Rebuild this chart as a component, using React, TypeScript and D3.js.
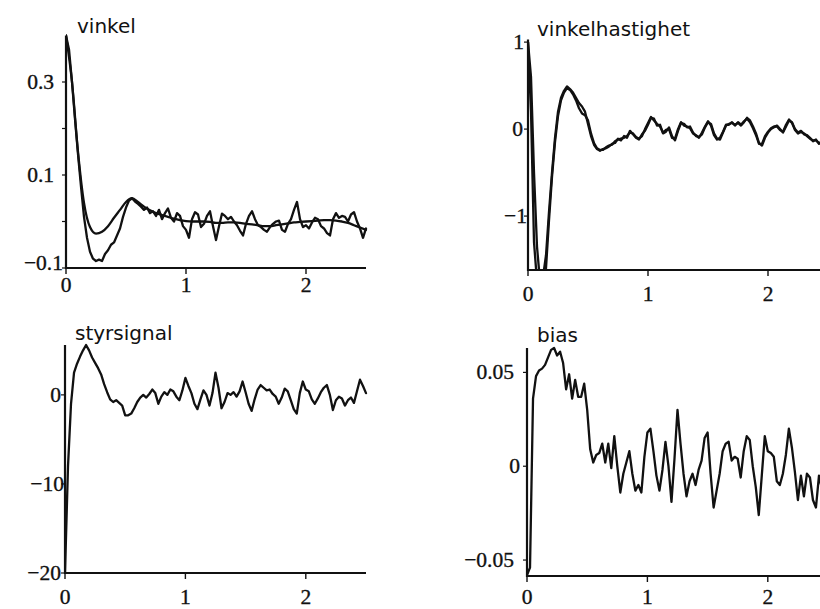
import React from "react";
import * as d3 from "d3";

// ---------- data ----------
const T_STEP = 0.025;
const MODEL_STEP = 0.05;
const T_MAX = 2.5;
const xTicks = [0, 1, 2];
const xTickLabels = ["0", "1", "2"];

// vinkel (angle): measured (noisy) and model (smooth)
const vinkelMeasured = [
  0.40, 0.37, 0.30, 0.22, 0.145, 0.075, 0.01, -0.035, -0.065, -0.08,
  -0.085, -0.082, -0.085, -0.07, -0.062, -0.05, -0.045, -0.03, -0.015, 0.01,
  0.03, 0.045, 0.05, 0.043, 0.038, 0.032, 0.025, 0.03, 0.018, 0.022,
  0.012, 0.025, 0.005, 0.018, 0.028, 0.008, 0.0, 0.018, 0.012, -0.01,
  -0.018, -0.035, 0.005, 0.02, 0.015, -0.012, -0.005, 0.012, 0.022, -0.01,
  -0.04, -0.01, 0.017, 0.012, 0.005, 0.01, 0.0, -0.008, -0.02, -0.03,
  -0.005, 0.012, 0.022, 0.005, -0.008, -0.012, -0.018, -0.022, -0.012, -0.005,
  0.0, 0.002, -0.018, -0.022, -0.005, 0.005, 0.025, 0.042, 0.005, -0.012,
  -0.008, -0.015, -0.002, 0.008, 0.005, -0.01, -0.015, -0.025, -0.03, 0.005,
  0.018, 0.008, 0.012, 0.01, 0.0, 0.015, 0.02, 0.0, -0.015, -0.035,
  -0.015,
];
const vinkelModel = [
  0.40, 0.30, 0.15, 0.04, -0.012, -0.026, -0.022, -0.01, 0.008, 0.025,
  0.042, 0.05, 0.042, 0.032, 0.024, 0.018, 0.014, 0.01, 0.006, 0.003,
  0.001, 0.0, 0.0, 0.0, -0.001, -0.003, -0.003, -0.002, -0.002, -0.003,
  -0.005, -0.006, -0.008, -0.01, -0.01, -0.008, -0.006, -0.004, -0.002, -0.001,
  0.0, 0.001, 0.002, 0.003, 0.003, 0.002, 0.0, -0.003, -0.008, -0.013,
  -0.018,
];
const vinkelTicks = [0.3, 0.2, 0.1, 0.0, -0.1];
const vinkelTickLabels = ["0.3", "", "0.1", "", "\u22120.1"];

// vinkelhastighet (angular velocity): two nearly coinciding traces
const hastighetA = [
  1.0, 0.2, -1.3, -1.75, -1.8, -1.7, -1.45, -0.95, -0.5, -0.1,
  0.2, 0.36, 0.44, 0.49, 0.46, 0.42, 0.36, 0.3, 0.26, 0.2,
  0.06, -0.08, -0.18, -0.23, -0.25, -0.23, -0.22, -0.2, -0.17, -0.16,
  -0.11, -0.13, -0.08, -0.1, -0.02, -0.06, -0.1, -0.12, -0.06, -0.02,
  0.05, 0.13, 0.12, 0.04, 0.05, -0.05, -0.03, 0.02, -0.08, -0.13,
  -0.02, 0.07, 0.06, 0.02, 0.03, -0.04, -0.08, -0.09, -0.06, 0.02,
  0.08, 0.06, -0.05, -0.11, -0.12, -0.04, 0.04, 0.06, 0.07, 0.05,
  0.07, 0.04, 0.08, 0.13, 0.1, 0.03, -0.05, -0.16, -0.19, -0.1,
  -0.04, 0.0, 0.02, 0.04, 0.0, -0.04, 0.03, 0.1, 0.08, 0.0,
  -0.04, -0.02, -0.06, -0.07, -0.1, -0.14, -0.12, -0.17, -0.14, -0.16,
  -0.12,
];
const hastighetB = [
  1.0, 0.6, -0.5, -1.35, -1.75, -1.8, -1.6, -1.05, -0.55, -0.15,
  0.15, 0.33, 0.42, 0.47, 0.45, 0.4, 0.33, 0.24, 0.18, 0.16,
  0.1, -0.05, -0.16, -0.22, -0.24, -0.24, -0.21, -0.19, -0.18, -0.14,
  -0.12, -0.11, -0.1, -0.08, -0.04, -0.05, -0.09, -0.11, -0.08, 0.0,
  0.07, 0.14, 0.1, 0.06, 0.03, -0.04, -0.01, 0.0, -0.1, -0.11,
  0.0, 0.08, 0.04, 0.03, 0.01, -0.05, -0.07, -0.1, -0.04, 0.03,
  0.09, 0.04, -0.07, -0.12, -0.1, -0.03, 0.05, 0.05, 0.08, 0.04,
  0.08, 0.05, 0.09, 0.12, 0.08, 0.01, -0.07, -0.17, -0.17, -0.08,
  -0.03, 0.01, 0.03, 0.03, -0.01, -0.03, 0.05, 0.11, 0.07, -0.01,
  -0.05, -0.03, -0.05, -0.08, -0.11, -0.13, -0.13, -0.16, -0.15, -0.15,
  -0.13,
];
const hastighetTicks = [1, 0, -1];
const hastighetTickLabels = ["1", "0", "\u22121"];

// styrsignal (control signal)
const styrsignal = [
  -20, -8, -1, 2.5, 3.5, 4.3, 5.0, 5.6, 5.0, 4.2,
  3.6, 3.0, 2.3, 1.2, 0.3, -0.5, -0.8, -0.6, -0.9, -1.2,
  -2.3, -2.3, -2.1, -1.5, -0.8, -0.3, 0.0, -0.3, 0.1, 0.6,
  0.2, -1.0, -0.2, 0.3, 0.0, 0.6, 0.4, -0.2, -0.6, 0.5,
  1.9, 1.0, 0.2, -1.0, -1.6, -0.5, 0.5, 0.0, -1.2, 0.2,
  2.5, 0.8, -1.5, -0.8, 0.2, 0.0, 0.3, -0.2, 0.4, 1.5,
  0.3, -1.0, -1.8, -0.5, 0.6, 1.1, 0.8, 0.5, 0.6, 0.1,
  -0.2, -1.0, -0.3, 0.7, 0.4, -0.6, -1.6, -2.1, 0.2, 1.5,
  0.6, 0.4, -0.5, -1.0, -0.4, 0.3, 0.8, 1.1, 0.0, -1.7,
  -0.6, -0.2, -0.4, -1.2, -0.6, -0.3, -0.9, 0.4, 1.7, 1.0,
  0.2,
];
const styrTicks = [0, -10, -20];
const styrTickLabels = ["0", "\u221210", "\u221220"];

// bias
const bias = [
  -0.058, -0.054, 0.036, 0.048, 0.051, 0.052, 0.054, 0.058, 0.062, 0.063,
  0.059, 0.061, 0.055, 0.041, 0.049, 0.036, 0.046, 0.037, 0.037, 0.044,
  0.03, 0.009, 0.002, 0.006, 0.007, 0.012, 0.002, 0.012, -0.001, 0.016,
  0.0, -0.014, -0.004, 0.002, 0.008, -0.004, -0.013, -0.01, -0.014, 0.005,
  0.018, 0.02, 0.008, -0.005, -0.013, -0.002, 0.013, 0.0, -0.019, 0.004,
  0.03, 0.012, -0.004, -0.016, -0.008, -0.004, -0.01, -0.002, 0.003, 0.015,
  0.018, -0.004, -0.022, -0.013, -0.004, 0.008, 0.012, 0.013, 0.003, 0.005,
  0.004, -0.006, 0.008, 0.016, 0.014, 0.0, -0.011, -0.026, -0.005, 0.016,
  0.008, 0.007, 0.005, -0.008, -0.01, -0.004, 0.006, 0.02, 0.01, -0.003,
  -0.018, -0.005, -0.016, -0.004, -0.006, -0.018, -0.022, -0.005, -0.012, 0.0,
  -0.01,
];
const biasTicks = [0.05, 0, -0.05];
const biasTickLabels = ["0.05", "0", "\u22120.05"];

// ---------- layout / style ----------
const W = 820;
const H = 609;
const TICK_FONT = "'Liberation Serif', 'Times New Roman', serif";
const TICK_SIZE = 21.5;
const TITLE_FONT = "'DejaVu Sans', sans-serif";

type Series = { values: number[]; step: number; smooth?: boolean };
type PanelCfg = {
  id: string;
  title: string;
  titleX: number;
  titleY: number;
  left: number;
  right: number;
  top: number;
  bottom: number;
  yDomain: [number, number];
  yTicks: number[];
  yLabels: string[];
  yLabelGap: number[];
  yLabelDy: number[];
  xLabelOffset: number;
  series: Series[];
};

const panels: PanelCfg[] = [
  {
    id: "p1",
    title: "vinkel",
    titleX: 77,
    titleY: 33,
    left: 66,
    right: 366,
    top: 35.5,
    bottom: 268,
    yDomain: [-0.1, 0.4],
    yTicks: vinkelTicks,
    yLabels: vinkelTickLabels,
    yLabelGap: [12, 0, 12, 0, 3],
    yLabelDy: [0, 0, 0, 0, -5],
    xLabelOffset: 24,
    series: [
      { values: vinkelModel, step: MODEL_STEP, smooth: true },
      { values: vinkelMeasured, step: T_STEP },
    ],
  },
  {
    id: "p2",
    title: "vinkelhastighet",
    titleX: 537,
    titleY: 36,
    left: 528,
    right: 828,
    top: 39.5,
    bottom: 270,
    yDomain: [-1.62, 1.03],
    yTicks: hastighetTicks,
    yLabels: hastighetTickLabels,
    yLabelGap: [4, 5, 1],
    yLabelDy: [0, 0, 0],
    xLabelOffset: 31,
    series: [
      { values: hastighetB, step: T_STEP },
      { values: hastighetA, step: T_STEP },
    ],
  },
  {
    id: "p3",
    title: "styrsignal",
    titleX: 75,
    titleY: 340,
    left: 65,
    right: 366,
    top: 345,
    bottom: 573,
    yDomain: [-20, 5.6],
    yTicks: styrTicks,
    yLabels: styrTickLabels,
    yLabelGap: [4, 1, 4],
    yLabelDy: [0, 0, 0],
    xLabelOffset: 31,
    series: [{ values: styrsignal, step: T_STEP }],
  },
  {
    id: "p4",
    title: "bias",
    titleX: 537,
    titleY: 342,
    left: 527,
    right: 828,
    top: 348,
    bottom: 576,
    yDomain: [-0.0585, 0.063],
    yTicks: biasTicks,
    yLabels: biasTickLabels,
    yLabelGap: [13, 7, 13],
    yLabelDy: [0, 0, 0],
    xLabelOffset: 28,
    series: [{ values: bias, step: T_STEP }],
  },
];

function Panel({ cfg }: { cfg: PanelCfg }) {
  const x = d3.scaleLinear().domain([0, T_MAX]).range([cfg.left, cfg.right]);
  const y = d3.scaleLinear().domain(cfg.yDomain).range([cfg.bottom, cfg.top]);
  const clipId = `clip-${cfg.id}`;
  const textStyle = {
    fontFamily: TICK_FONT,
    fontSize: TICK_SIZE,
    fill: "#111",
    stroke: "#111",
    strokeWidth: 0.35,
  } as React.CSSProperties;
  return (
    <g>
      <defs>
        <clipPath id={clipId}>
          <rect
            x={cfg.left}
            y={cfg.top - 4}
            width={cfg.right - cfg.left + 4}
            height={cfg.bottom - cfg.top + 4}
          />
        </clipPath>
      </defs>
      <g clipPath={`url(#${clipId})`}>
        {cfg.series.map((s, i) => {
          const pts: [number, number][] = s.values.map((v, k) => [k * s.step, v]);
          const gen = d3
            .line<[number, number]>()
            .x((d) => x(d[0]))
            .y((d) => y(d[1]))
            .curve(s.smooth ? d3.curveMonotoneX : d3.curveLinear);
          return (
            <path
              key={i}
              d={gen(pts) || ""}
              fill="none"
              stroke="#111"
              strokeWidth={2.3}
              strokeLinejoin="round"
              strokeLinecap="round"
            />
          );
        })}
      </g>
      {/* y axis */}
      <line x1={cfg.left} x2={cfg.left} y1={cfg.top} y2={cfg.bottom + 1} stroke="#111" strokeWidth={2.2} />
      {cfg.yTicks.map((t, i) => (
        <g key={`yt${i}`}>
          <line x1={cfg.left - 4} x2={cfg.left} y1={y(t)} y2={y(t)} stroke="#111" strokeWidth={1.2} />
          {cfg.yLabels[i] ? (
            <text
              x={cfg.left - cfg.yLabelGap[i]}
              y={y(t) + cfg.yLabelDy[i]}
              textAnchor="end"
              dominantBaseline="central"
              style={textStyle}
            >
              {cfg.yLabels[i]}
            </text>
          ) : null}
        </g>
      ))}
      {/* x axis */}
      <line x1={cfg.left - 1} x2={cfg.right} y1={cfg.bottom} y2={cfg.bottom} stroke="#111" strokeWidth={2.2} />
      {xTicks.map((t, i) => (
        <g key={`xt${i}`}>
          <line x1={x(t)} x2={x(t)} y1={cfg.bottom} y2={cfg.bottom + 6} stroke="#111" strokeWidth={1.4} />
          <text x={x(t)} y={cfg.bottom + cfg.xLabelOffset} textAnchor="middle" style={textStyle}>
            {xTickLabels[i]}
          </text>
        </g>
      ))}
      <text x={cfg.titleX} y={cfg.titleY} fontFamily={TITLE_FONT} fontSize={20} fill="#111">
        {cfg.title}
      </text>
    </g>
  );
}

export default function App() {
  return (
    <svg
      width={W}
      height={H}
      viewBox={`0 0 ${W} ${H}`}
      style={{ position: "absolute", left: 0, top: 0, background: "#fff" }}
    >
      <rect x={0} y={0} width={W} height={H} fill="#fff" />
      {panels.map((p) => (
        <Panel key={p.id} cfg={p} />
      ))}
    </svg>
  );
}
